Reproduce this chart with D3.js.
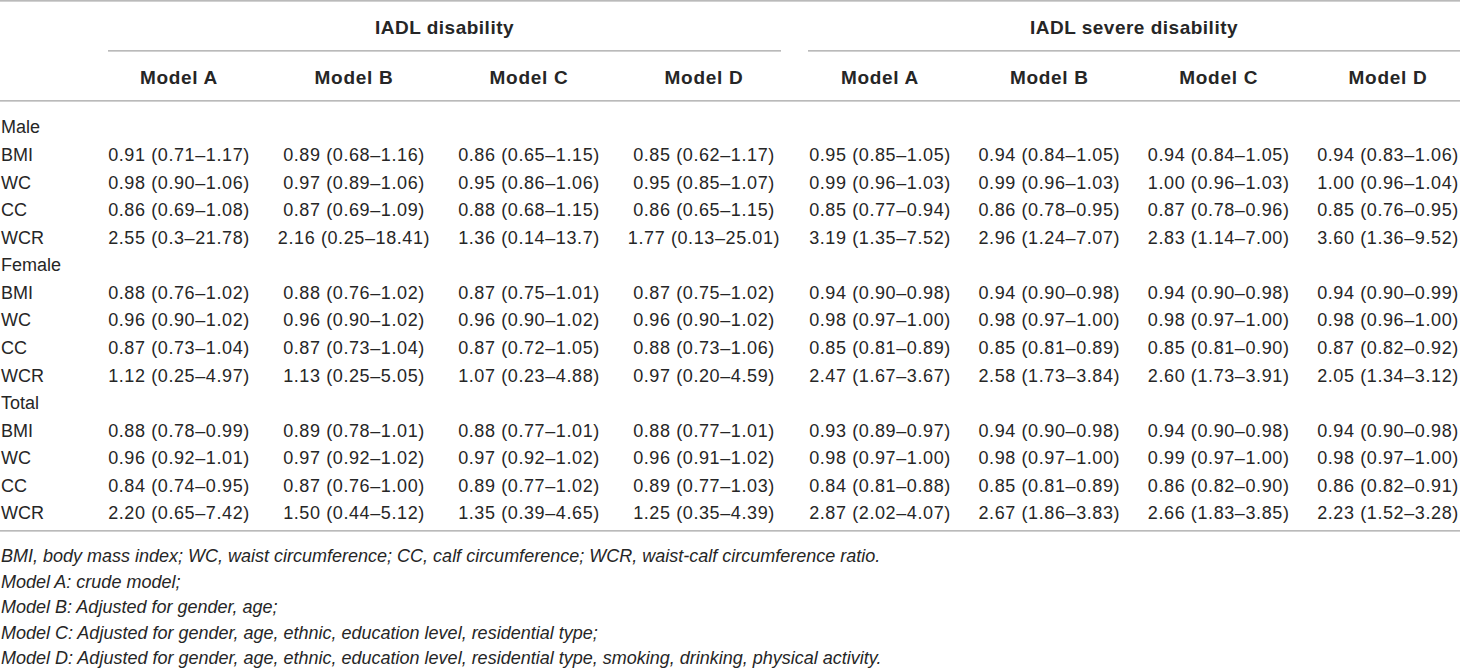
<!DOCTYPE html>
<html>
<head>
<meta charset="utf-8">
<script src="https://cdn.jsdelivr.net/npm/d3@7/dist/d3.min.js"></script>
<style>
  html, body { margin: 0; padding: 0; background: #fff; }
  svg { display: block; }
  text { font-family: "Liberation Sans", Arial, Helvetica, sans-serif; fill: #262626; }
</style>
</head>
<body>
<svg id="chart" width="1460" height="669"></svg>
<script>
// ---- data ----
const outcomes = ["IADL disability", "IADL severe disability"];
const models = ["Model A", "Model B", "Model C", "Model D"];
const groups = ["Male", "Female", "Total"];
const measures = ["BMI", "WC", "CC", "WCR"];

const maleValues = [
  ["0.91 (0.71–1.17)", "0.89 (0.68–1.16)", "0.86 (0.65–1.15)", "0.85 (0.62–1.17)", "0.95 (0.85–1.05)", "0.94 (0.84–1.05)", "0.94 (0.84–1.05)", "0.94 (0.83–1.06)"],
  ["0.98 (0.90–1.06)", "0.97 (0.89–1.06)", "0.95 (0.86–1.06)", "0.95 (0.85–1.07)", "0.99 (0.96–1.03)", "0.99 (0.96–1.03)", "1.00 (0.96–1.03)", "1.00 (0.96–1.04)"],
  ["0.86 (0.69–1.08)", "0.87 (0.69–1.09)", "0.88 (0.68–1.15)", "0.86 (0.65–1.15)", "0.85 (0.77–0.94)", "0.86 (0.78–0.95)", "0.87 (0.78–0.96)", "0.85 (0.76–0.95)"],
  ["2.55 (0.3–21.78)", "2.16 (0.25–18.41)", "1.36 (0.14–13.7)", "1.77 (0.13–25.01)", "3.19 (1.35–7.52)", "2.96 (1.24–7.07)", "2.83 (1.14–7.00)", "3.60 (1.36–9.52)"]
];
const femaleValues = [
  ["0.88 (0.76–1.02)", "0.88 (0.76–1.02)", "0.87 (0.75–1.01)", "0.87 (0.75–1.02)", "0.94 (0.90–0.98)", "0.94 (0.90–0.98)", "0.94 (0.90–0.98)", "0.94 (0.90–0.99)"],
  ["0.96 (0.90–1.02)", "0.96 (0.90–1.02)", "0.96 (0.90–1.02)", "0.96 (0.90–1.02)", "0.98 (0.97–1.00)", "0.98 (0.97–1.00)", "0.98 (0.97–1.00)", "0.98 (0.96–1.00)"],
  ["0.87 (0.73–1.04)", "0.87 (0.73–1.04)", "0.87 (0.72–1.05)", "0.88 (0.73–1.06)", "0.85 (0.81–0.89)", "0.85 (0.81–0.89)", "0.85 (0.81–0.90)", "0.87 (0.82–0.92)"],
  ["1.12 (0.25–4.97)", "1.13 (0.25–5.05)", "1.07 (0.23–4.88)", "0.97 (0.20–4.59)", "2.47 (1.67–3.67)", "2.58 (1.73–3.84)", "2.60 (1.73–3.91)", "2.05 (1.34–3.12)"]
];
const totalValues = [
  ["0.88 (0.78–0.99)", "0.89 (0.78–1.01)", "0.88 (0.77–1.01)", "0.88 (0.77–1.01)", "0.93 (0.89–0.97)", "0.94 (0.90–0.98)", "0.94 (0.90–0.98)", "0.94 (0.90–0.98)"],
  ["0.96 (0.92–1.01)", "0.97 (0.92–1.02)", "0.97 (0.92–1.02)", "0.96 (0.91–1.02)", "0.98 (0.97–1.00)", "0.98 (0.97–1.00)", "0.99 (0.97–1.00)", "0.98 (0.97–1.00)"],
  ["0.84 (0.74–0.95)", "0.87 (0.76–1.00)", "0.89 (0.77–1.02)", "0.89 (0.77–1.03)", "0.84 (0.81–0.88)", "0.85 (0.81–0.89)", "0.86 (0.82–0.90)", "0.86 (0.82–0.91)"],
  ["2.20 (0.65–7.42)", "1.50 (0.44–5.12)", "1.35 (0.39–4.65)", "1.25 (0.35–4.39)", "2.87 (2.02–4.07)", "2.67 (1.86–3.83)", "2.66 (1.83–3.85)", "2.23 (1.52–3.28)"]
];
const footnotes = [
  "BMI, body mass index; WC, waist circumference; CC, calf circumference; WCR, waist-calf circumference ratio.",
  "Model A: crude model;",
  "Model B: Adjusted for gender, age;",
  "Model C: Adjusted for gender, age, ethnic, education level, residential type;",
  "Model D: Adjusted for gender, age, ethnic, education level, residential type, smoking, drinking, physical activity."
];

// ---- build rows ----
const groupValues = [maleValues, femaleValues, totalValues];
const rows = [];
groups.forEach((g, gi) => {
  rows.push({ label: g, cells: null });
  measures.forEach((m, mi) => rows.push({ label: m, cells: groupValues[gi][mi] }));
});

const svg = d3.select("#chart");
const W = 1460;
const lineColor = "#a3a3a3";

// scales
const yRow = d3.scaleLinear().domain([0, rows.length - 1]).range([127, 513]);
const xLeft = d3.scalePoint().domain(models).range([179, 704]);
const xRight = d3.scalePoint().domain(models).range([880, 1388]);
const colX = (ci) => ci < 4 ? xLeft(models[ci]) : xRight(models[ci - 4]);
const groupSpan = [[108, 781], [808, 1460]];

// rules
function hline(x1, x2, y) {
  svg.append("line").attr("x1", x1).attr("x2", x2).attr("y1", y).attr("y2", y)
    .attr("stroke", lineColor).attr("stroke-width", 1.3);
}
hline(0, W, 0.8);
groupSpan.forEach(s => hline(s[0], s[1], 50.8));
hline(0, W, 100.8);
hline(0, W, 530.8);

// outcome headers
svg.selectAll("text.outcome").data(outcomes).join("text")
  .attr("class", "outcome")
  .attr("x", (d, i) => (groupSpan[i][0] + groupSpan[i][1]) / 2)
  .attr("y", 27).attr("dy", "0.36em")
  .attr("text-anchor", "middle")
  .attr("font-weight", "bold").attr("font-size", 19).attr("letter-spacing", 0.5)
  .text(d => d);

// model headers
const modelCols = d3.range(8);
svg.selectAll("text.model").data(modelCols).join("text")
  .attr("class", "model")
  .attr("x", ci => colX(ci))
  .attr("y", 77).attr("dy", "0.36em")
  .attr("text-anchor", "middle")
  .attr("font-weight", "bold").attr("font-size", 19).attr("letter-spacing", 0.7)
  .text(ci => models[ci % 4]);

// row labels
svg.selectAll("text.rowlabel").data(rows).join("text")
  .attr("class", "rowlabel")
  .attr("x", 1)
  .attr("y", (d, i) => yRow(i)).attr("dy", "0.36em")
  .attr("font-size", 18)
  .text(d => d.label);

// cells
const cells = [];
rows.forEach((r, ri) => {
  if (r.cells) r.cells.forEach((v, ci) => cells.push({ ri, ci, v }));
});
svg.selectAll("text.cell").data(cells).join("text")
  .attr("class", "cell")
  .attr("x", d => colX(d.ci))
  .attr("y", d => yRow(d.ri)).attr("dy", "0.36em")
  .attr("text-anchor", "middle")
  .attr("font-size", 18).attr("letter-spacing", 0.6)
  .text(d => d.v);

// footnotes
const yFoot = d3.scaleLinear().domain([0, footnotes.length - 1]).range([556, 658]);
svg.selectAll("text.foot").data(footnotes).join("text")
  .attr("class", "foot")
  .attr("x", 1)
  .attr("y", (d, i) => yFoot(i)).attr("dy", "0.36em")
  .attr("font-size", 18).attr("font-style", "italic")
  .text(d => d);
</script>
</body>
</html>
